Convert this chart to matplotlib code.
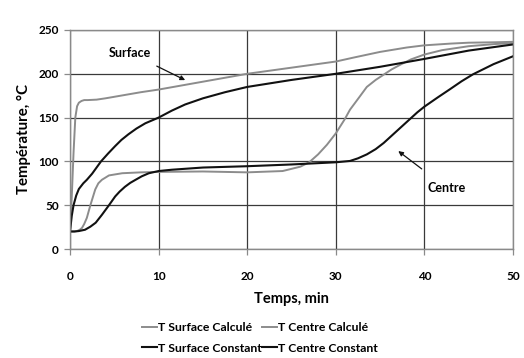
import matplotlib
matplotlib.use("Agg")
import matplotlib.pyplot as plt

plt.rcParams['font.family'] = ['Lato', 'DejaVu Sans']

# ---- data ----
t_surf_calc = [0, 0.2, 0.4, 0.6, 0.8, 1.0, 1.3, 1.6, 2, 3, 4, 6, 8, 10, 15, 20, 25, 30, 32, 35, 38, 40, 43, 45, 48, 50]
T_surf_calc = [20, 60, 110, 150, 163, 167, 169, 170, 170, 170.5, 172, 175.5, 179, 182, 191, 200, 207, 214, 218.5, 225, 230, 232.5, 234.5, 235.5, 236, 236.5]

t_surf_const = [0, 0.2, 0.4, 0.7, 1.0, 1.5, 1.9, 2.5, 3.5, 4.3, 5.1, 5.8, 6.6, 7.5, 8.5, 10, 11.5, 13, 15, 17.5, 20, 25, 30, 35, 40, 45, 50]
T_surf_const = [20, 38, 50, 61, 68.5, 75, 79, 86, 100, 109, 117.5, 124.5, 131, 137.5, 143.5, 150, 158, 165, 172, 179, 185, 193, 200, 208, 217, 226.5, 233.5]

t_centre_calc = [0, 0.5, 0.8, 1.1, 1.35, 1.6, 1.9, 2.3, 2.85, 3.2, 3.6, 4.4, 5.9, 8, 10, 15, 20, 24, 26, 27, 28, 29, 30, 31, 31.6, 32.7, 33.5, 34.5, 35.4, 36.3, 37.3, 38.5, 40, 42, 45, 48, 50]
T_centre_calc = [20, 20, 20.5, 22, 24, 28.5, 35.5, 50, 68, 75, 79, 84, 86.5, 87.5, 88, 88.5, 87.5, 89, 94, 99, 108, 119, 132, 148, 159, 174, 185, 193, 199, 205, 210.5, 216.5, 222, 227, 231.5, 234, 235]

t_centre_const = [0, 0.5, 1.0, 1.7, 2.3, 2.9, 3.6, 4.4, 5.1, 5.6, 6.2, 6.8, 7.4, 8.1, 8.9, 10, 11.5, 15, 20, 25, 30, 31.6, 32.5, 33.5, 34.5, 35.4, 37.3, 39.2, 40, 41.5, 42.9, 44.2, 45.5, 47.8, 50]
T_centre_const = [20, 20, 20.5, 22, 25.5, 30, 39, 50, 60, 65.5, 71, 75.5, 79, 83, 86.5, 89, 90.5, 93, 94.5, 96.5, 99, 100.5, 103.5, 108, 114, 121, 138.5, 156, 162.5, 173, 182.5, 191.5, 199.5, 211, 220]

labels = ["T Surface Calculé", "T Centre Calculé", "T Surface Constant", "T Centre Constant"]
x_ticks = [0, 10, 20, 30, 40, 50]
y_ticks = [0, 50, 100, 150, 200, 250]

GRAY = "#8c8c8c"
BLACK = "#111111"

fig = plt.figure(figsize=(5.24, 3.58), dpi=100)
ax = fig.add_axes([70/524, 1-249/358, (513-70)/524, (249-30)/358])

l1, = ax.plot(t_surf_calc, T_surf_calc, color=GRAY, lw=1.4, label=labels[0])
l2, = ax.plot(t_centre_calc, T_centre_calc, color=GRAY, lw=1.4, label=labels[1])
l3, = ax.plot(t_surf_const, T_surf_const, color=BLACK, lw=1.5, label=labels[2])
l4, = ax.plot(t_centre_const, T_centre_const, color=BLACK, lw=1.5, label=labels[3])

ax.set_xlim(0, 50)
ax.set_ylim(0, 250)
ax.set_xticks(x_ticks)
ax.set_yticks(y_ticks)
ax.grid(True, color="#3a3a3a", lw=0.9)
ax.set_axisbelow(True)
for s in ax.spines.values():
    s.set_color("#8a8a8a")
    s.set_linewidth(1.0)
ax.tick_params(axis='both', direction='out', length=4, width=0.9, color="#8a8a8a",
               labelsize=8.5, pad=4)
for lab in ax.get_xticklabels() + ax.get_yticklabels():
    lab.set_fontweight('bold')
ax.tick_params(axis='x', pad=12)

ax.set_xlabel("Temps, min", fontsize=10.5, fontweight='bold', labelpad=7)
ax.set_ylabel("Température, °C", fontsize=10.8, fontweight='bold', labelpad=5)

ax.annotate("Surface", xy=(13.0, 192.8), xytext=(6.8, 223.7), fontsize=9, fontweight='bold',
            ha='center', va='center',
            arrowprops=dict(arrowstyle='-|>', color=BLACK, lw=0.9, mutation_scale=7,
                            shrinkA=7, shrinkB=0))
ax.annotate("Centre", xy=(37.05, 111.8), xytext=(42.5, 69.9), fontsize=9, fontweight='bold',
            ha='center', va='center',
            arrowprops=dict(arrowstyle='-|>', color=BLACK, lw=0.9, mutation_scale=7,
                            shrinkA=12, shrinkB=0))

leg = fig.legend([l1, l3, l2, l4], [labels[0], labels[2], labels[1], labels[3]],
                 ncol=2, loc='center', bbox_to_anchor=(260/524, 1-338/358),
                 frameon=False, fontsize=8.8, handlelength=1.25, handletextpad=0.1,
                 columnspacing=0.0, labelspacing=0.75, borderpad=0, borderaxespad=0)
for txt in leg.get_texts():
    txt.set_fontweight('bold')

fig.savefig("out.png", dpi=100)
